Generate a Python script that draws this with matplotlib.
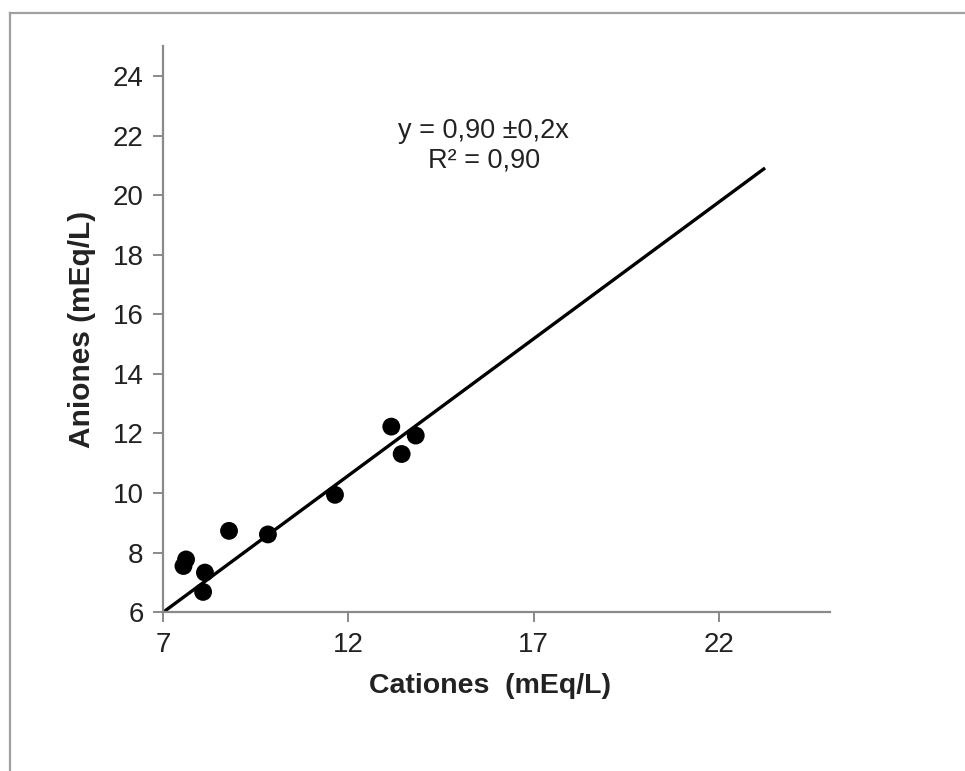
import matplotlib
matplotlib.use("Agg")
import matplotlib.pyplot as plt
from matplotlib import font_manager
from matplotlib.lines import Line2D
import numpy as np

plt.rcParams['font.family'] = ['Liberation Sans', 'DejaVu Sans']

# Measured ion balances (mEq/L)
cationes = [7.55, 7.62, 8.13, 8.08, 8.78, 9.83, 11.64, 13.16, 13.44, 13.82]
aniones = [7.55, 7.77, 7.33, 6.68, 8.73, 8.61, 9.94, 12.23, 11.31, 11.93]

# Linear trend line
trend_slope = 0.918
trend_intercept = -0.43
trend_x = [7.0, 23.25]

x_ticks = [7, 12, 17, 22]
y_ticks = [6, 8, 10, 12, 14, 16, 18, 20, 22, 24]

eq_text = "y = 0,90 \u00b10,2x"
r2_text = "R\u00b2 = 0,90"

installed = {f.name for f in font_manager.fontManager.ttflist}
if 'Liberation Sans Narrow' in installed:
    tick_family, tick_size = ['Liberation Sans Narrow', 'DejaVu Sans'], 22
else:
    tick_family, tick_size = ['Liberation Sans', 'DejaVu Sans'], 20

fig = plt.figure(figsize=(9.65, 7.71), dpi=100)
ax = fig.add_axes([0.169, 0.206, 0.691, 0.734])

tx = np.array(trend_x)
ax.plot(tx, trend_slope * tx + trend_intercept, color='black', lw=2.4,
        solid_capstyle='butt', zorder=2)
ax.scatter(cationes, aniones, s=165, color='black', edgecolors='none', zorder=3)

ax.set_xlim(7, 25)
ax.set_ylim(6, 25)
ax.set_xticks(x_ticks)
ax.set_yticks(y_ticks)
ax.tick_params(axis='both', direction='out', length=7, width=1.4,
               color='#8a8a8a', pad=7, labelcolor='#222222')
for lab in ax.get_xticklabels() + ax.get_yticklabels():
    lab.set_fontfamily(tick_family)
    lab.set_fontsize(tick_size)

for side in ('top', 'right'):
    ax.spines[side].set_visible(False)
for side in ('left', 'bottom'):
    ax.spines[side].set_color('#8a8a8a')
    ax.spines[side].set_linewidth(1.6)

ax.set_xlabel("Cationes  (mEq/L)", fontsize=20.5, fontweight='bold',
              color='#222222', labelpad=11)
ax.xaxis.label.set_x(0.49)
ax.set_ylabel("Aniones (mEq/L)", fontsize=21.5, fontweight='bold',
              color='#222222', labelpad=12)

ax.text(15.66, 22.14, eq_text, ha='center', va='center', fontsize=19.5,
        color='#222222')
ax.text(15.66, 21.15, r2_text, ha='center', va='center', fontsize=19.5,
        color='#222222')

# Outer frame lines (top and left)
fig.add_artist(Line2D([0.0105, 1.0], [1 - 12.5 / 771, 1 - 12.5 / 771],
                      transform=fig.transFigure, color='#a0a0a0', lw=1.6))
fig.add_artist(Line2D([0.0105, 0.0105], [0.0, 1 - 12.5 / 771],
                      transform=fig.transFigure, color='#a0a0a0', lw=1.6))

fig.savefig("out.png", dpi=100)
